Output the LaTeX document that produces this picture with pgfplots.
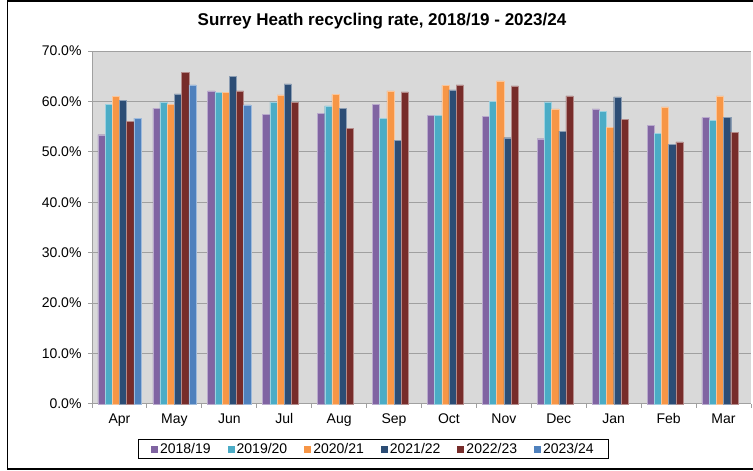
\documentclass[border=0pt]{standalone}
\usepackage{pgfplots}
\pgfplotsset{compat=1.18}
\usepackage{fontspec}
\setmainfont{Liberation Sans}
\definecolor{c1}{HTML}{8064A2}
\definecolor{c2}{HTML}{4BACC6}
\definecolor{c3}{HTML}{F79646}
\definecolor{c4}{HTML}{2C4D75}
\definecolor{c5}{HTML}{772C2A}
\definecolor{c6}{HTML}{4F81BD}
\definecolor{plotbg}{RGB}{217,217,217}
\definecolor{gridc}{RGB}{160,160,160}
\begin{document}
\begin{tikzpicture}[x=1pt,y=1pt]
\useasboundingbox (0,0) rectangle (753,471);
\draw[black, line width=1.3pt] (7.5,2) rectangle (770,470);
\node[font=\fontsize{17}{20}\selectfont\bfseries] at (382,450) {Surrey Heath recycling rate, 2018/19 - 2023/24};
\begin{axis}[
  at={(92pt,67pt)}, anchor=south west,
  width=659pt, height=353pt, scale only axis,
  ybar=0pt, bar width=7.2pt,
  xmin=-0.5, xmax=11.5, ymin=0, ymax=70,
  xtick={0,...,11},
  xticklabels={Apr,May,Jun,Jul,Aug,Sep,Oct,Nov,Dec,Jan,Feb,Mar},
  minor xtick={-0.5,0.5,...,11.5},
  ytick={0,10,...,70},
  yticklabel={\pgfmathprintnumber[fixed,fixed zerofill,precision=1]{\tick}\%},
  /pgf/number format/assume math mode=true,
  tick label style={font=\fontsize{14}{16}\selectfont, text=black},
  axis lines*=left,
  axis line style={gridc, line width=1pt},
  tick align=outside,
  major tick length=4pt, minor tick length=4pt,
  major x tick style={draw=none},
  minor x tick style={gridc, line width=1pt},
  major y tick style={gridc, line width=1pt},
  ymajorgrids, grid style={gridc, line width=1pt},
  axis background/.style={fill=plotbg},
  xticklabel style={yshift=-2pt},
  yticklabel style={xshift=-3pt},
  legend columns=6,
  legend style={at={(0.427,-0.1275)}, anchor=center, draw=black, line width=0.8pt,
    font=\fontsize{14}{16}\selectfont, inner xsep=13pt, inner ysep=2pt,
    /tikz/every even column/.append style={column sep=15pt}},
  every axis plot post/.append style={legend image code/.code={\fill[##1, draw=none] (0pt,-3.5pt) rectangle (7pt,3.5pt);}},
  clip=false,
]
\addplot[fill=c1, draw=c1!55!white, line width=0.4pt] coordinates {(0,53.4) (1,58.6) (2,62.1) (3,57.5) (4,57.7) (5,59.4) (6,57.2) (7,57.1) (8,52.6) (9,58.5) (10,55.3) (11,56.8)};
\addplot[fill=c2, draw=c2!55!white, line width=0.4pt] coordinates {(0,59.4) (1,59.9) (2,61.8) (3,59.9) (4,59.1) (5,56.7) (6,57.2) (7,60.0) (8,59.9) (9,58.1) (10,53.7) (11,56.3)};
\addplot[fill=c3, draw=c3!55!white, line width=0.4pt] coordinates {(0,61.0) (1,59.4) (2,61.8) (3,61.3) (4,61.4) (5,62.1) (6,63.2) (7,64.1) (8,58.5) (9,54.8) (10,58.9) (11,61.1)};
\addplot[fill=c4, draw=c4!55!white, line width=0.4pt] coordinates {(0,60.2) (1,61.5) (2,65.0) (3,63.5) (4,58.6) (5,52.3) (6,62.3) (7,52.8) (8,54.1) (9,60.9) (10,51.5) (11,56.9)};
\addplot[fill=c5, draw=c5!55!white, line width=0.4pt] coordinates {(0,56.0) (1,65.7) (2,62.1) (3,59.8) (4,54.7) (5,61.9) (6,63.3) (7,63.1) (8,61.1) (9,56.5) (10,52.0) (11,53.9)};
\addplot[fill=c6, draw=c6!55!white, line width=0.4pt] coordinates {(0,56.7) (1,63.3) (2,59.3)};
\legend{2018/19,2019/20,2020/21,2021/22,2022/23,2023/24}
\end{axis}
\end{tikzpicture}
\end{document}
